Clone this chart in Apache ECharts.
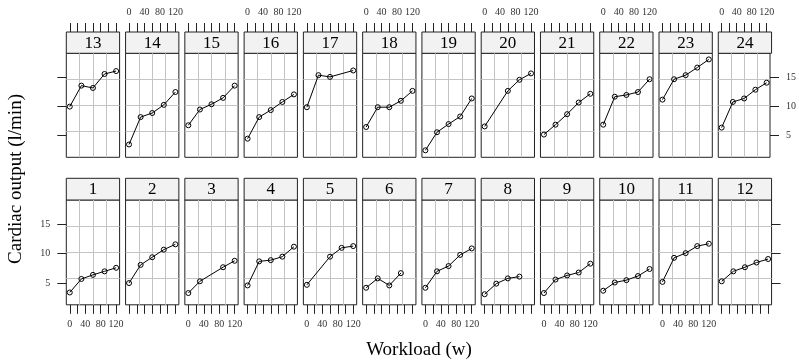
<!DOCTYPE html>
<html><head><meta charset="utf-8">
<script src="https://cdn.jsdelivr.net/npm/echarts@6/dist/echarts.min.js"></script>
<style>html,body{margin:0;padding:0;background:#fff}#c{width:799px;height:360px}</style>
</head><body><div id="c"></div>
<script>
// ---- data ----
const xTicks = [0, 20, 40, 60, 80, 100, 120];
const xTickLabels = [0, 40, 80, 120];
const yTicks = [5, 10, 15];
const wFull = [0, 30, 60, 90, 120];
const wNo90 = [0, 30, 60, 120];
const wNo30 = [0, 60, 90, 120];
const wNo60 = [0, 30, 90, 120];
const wNo120 = [0, 30, 60, 90];
const subjects = ['1','2','3','4','5','6','7','8','9','10','11','12',
                  '13','14','15','16','17','18','19','20','21','22','23','24'];
const work = [wFull, wFull, wNo60, wFull, wNo30, wNo120, wFull, wNo120, wFull, wFull, wFull, wFull,
              wFull, wFull, wFull, wFull, wNo90, wFull, wFull, wNo30, wFull, wFull, wFull, wFull];
const out01 = [3.4, 5.7, 6.4, 7.0, 7.6];
const out02 = [5.0, 8.1, 9.4, 10.7, 11.6];
const out03 = [3.3, 5.3, 7.7, 8.8];
const out04 = [4.6, 8.7, 8.9, 9.5, 11.2];
const out05 = [4.7, 9.5, 11.0, 11.3];
const out06 = [4.2, 5.8, 4.6, 6.7];
const out07 = [4.2, 7.0, 7.9, 9.8, 10.9];
const out08 = [3.1, 4.9, 5.8, 6.1];
const out09 = [3.3, 5.6, 6.3, 6.8, 8.3];
const out10 = [3.7, 5.1, 5.5, 6.2, 7.4];
const out11 = [5.2, 9.3, 10.1, 11.3, 11.7];
const out12 = [5.3, 7.0, 7.7, 8.5, 9.1];
const out13 = [10.0, 13.6, 13.2, 15.6, 16.1];
const out14 = [3.5, 8.2, 8.9, 10.3, 12.5];
const out15 = [6.8, 9.5, 10.4, 11.5, 13.6];
const out16 = [4.5, 8.2, 9.4, 10.8, 12.1];
const out17 = [9.9, 15.4, 15.1, 16.2];
const out18 = [6.5, 9.9, 9.9, 11.0, 12.7];
const out19 = [2.5, 5.6, 7.0, 8.3, 11.4];
const out20 = [6.6, 12.7, 14.6, 15.7];
const out21 = [5.2, 6.9, 8.7, 10.7, 12.2];
const out22 = [6.9, 11.7, 12.0, 12.5, 14.7];
const out23 = [11.2, 14.7, 15.4, 16.7, 18.1];
const out24 = [6.4, 10.8, 11.4, 12.9, 14.1];
const outputs = [out01,out02,out03,out04,out05,out06,out07,out08,out09,out10,out11,out12,
                 out13,out14,out15,out16,out17,out18,out19,out20,out21,out22,out23,out24];

// ---- layout ----
const FONT = 'Liberation Serif';
const L0 = 66.3, STEP = 59.27, PW = 53.3;
const rows = [
  { top: 53.3, h: 104, stripTop: 32, stripH: 21.3 },   // top row: 13-24
  { top: 200, h: 104.8, stripTop: 178.3, stripH: 21.7 } // bottom row: 1-12
];
const XMIN = -9, XMAX = 129, YMIN = 1.3, YMAX = 19.15;
const ink = '#222';

const grid = [], xAxis = [], yAxis = [], series = [], graphic = [];
subjects.forEach((s, k) => {
  const num = k + 1;
  const r = num <= 12 ? 1 : 0;
  const col = (num - 1) % 12;
  const R = rows[r];
  const left = L0 + col * STEP;
  grid.push({ left: left, top: R.top, width: PW, height: R.h, show: true,
    borderColor: ink, borderWidth: 1, backgroundColor: 'transparent' });
  const showXLab = r === 0 ? (col % 2 === 1) : (col % 2 === 0);
  xAxis.push({
    type: 'value', gridIndex: k, min: XMIN, max: XMAX,
    position: r === 0 ? 'top' : 'bottom', offset: r === 0 ? R.stripH : 0,
    axisLine: { show: false, onZero: false },
    axisTick: { show: true, inside: false, length: 9, customValues: xTicks, lineStyle: { color: ink, width: 1 } },
    axisLabel: { show: showXLab, customValues: xTickLabels, margin: 15, fontFamily: FONT, fontSize: 10, color: '#333' },
    splitLine: { show: false }
  });
  xAxis.push({
    type: 'value', gridIndex: k, min: 0, max: 4, interval: 1,
    position: r === 0 ? 'bottom' : 'top',
    axisLine: { show: false, onZero: false }, axisTick: { show: false }, axisLabel: { show: false },
    splitLine: { show: true, showMinLine: false, showMaxLine: false, lineStyle: { color: '#c4c4c4', width: 1 } }
  });
  const edge = col === 0 || col === 11;
  yAxis.push({
    type: 'value', gridIndex: k, min: YMIN, max: YMAX,
    position: col === 11 ? 'right' : 'left',
    axisLine: { show: false, onZero: false },
    axisTick: { show: edge, inside: false, length: 9, customValues: yTicks, lineStyle: { color: ink, width: 1 } },
    axisLabel: { show: (col === 0 && r === 1) || (col === 11 && r === 0), customValues: yTicks,
      margin: 16, fontFamily: FONT, fontSize: 10, color: '#333' },
    splitLine: { show: false }
  });
  yAxis.push({
    type: 'value', gridIndex: k, min: 0, max: 4, interval: 1,
    position: col === 11 ? 'left' : 'right',
    axisLine: { show: false, onZero: false }, axisTick: { show: false }, axisLabel: { show: false },
    splitLine: { show: true, showMinLine: false, showMaxLine: false, lineStyle: { color: '#c4c4c4', width: 1 } }
  });
  series.push({
    type: 'line', xAxisIndex: 2 * k, yAxisIndex: 2 * k,
    data: work[k].map((w, i) => [w, outputs[k][i]]),
    symbol: 'circle', symbolSize: 5, showAllSymbol: true,
    lineStyle: { color: '#000', width: 1 },
    itemStyle: { color: 'rgba(0,0,0,0)', borderColor: '#000', borderWidth: 1 },
    emphasis: { disabled: true }, silent: true, animation: false, z: 5
  });
  graphic.push({
    type: 'group', children: [
      { type: 'rect', shape: { x: left, y: R.stripTop, width: PW, height: R.stripH },
        style: { fill: '#f2f2f2', stroke: ink, lineWidth: 1 } },
      { type: 'text', x: left + PW / 2, y: R.stripTop + R.stripH / 2 + 0.5,
        style: { text: s, font: '17px "' + FONT + '"', fill: '#000',
          align: 'center', verticalAlign: 'middle', textAlign: 'center', textVerticalAlign: 'middle' } }
    ]
  });
});
graphic.push({ type: 'text', x: 16, y: 179, rotation: Math.PI / 2,
  style: { text: 'Cardiac output (l/min)', font: '19px "' + FONT + '"', fill: '#000',
    align: 'center', verticalAlign: 'middle', textAlign: 'center', textVerticalAlign: 'middle' } });
graphic.push({ type: 'text', x: 419, y: 350,
  style: { text: 'Workload (w)', font: '19px "' + FONT + '"', fill: '#000',
    align: 'center', verticalAlign: 'middle', textAlign: 'center', textVerticalAlign: 'middle' } });

const chart = echarts.init(document.getElementById('c'), null, { renderer: 'canvas' });
chart.setOption({ animation: false, backgroundColor: '#fff', grid, xAxis, yAxis, series, graphic });
</script></body></html>
